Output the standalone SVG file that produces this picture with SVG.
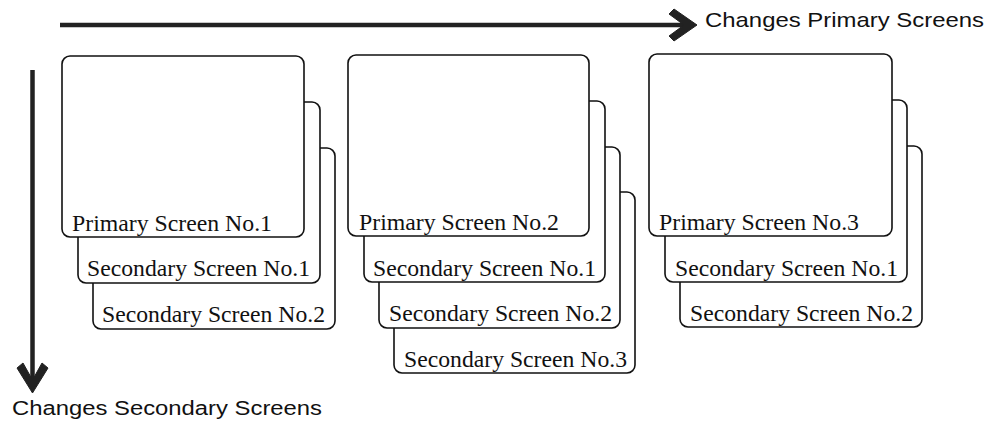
<svg xmlns="http://www.w3.org/2000/svg" width="991" height="421" viewBox="0 0 991 421">
<style>
.scr{fill:#fff;stroke:#111;stroke-width:1.6}
.lbl{font-family:"Liberation Serif","Times New Roman",serif;font-size:23.5px;fill:#111}
.cap{font-family:"Liberation Sans",Arial,sans-serif;fill:#111}
.ax{stroke:#222;stroke-width:4.5;fill:none}
.hd{fill:#222;stroke:#222;stroke-width:1;stroke-linejoin:round}
</style>
<rect width="991" height="421" fill="#fff"/>
<g id="connectors">
<line class="ax" x1="60" y1="25" x2="684" y2="25"/>
<polygon class="hd" points="674,9 697,25 674,41 669,36 684,25 669,14"/>
<line class="ax" x1="32.5" y1="70" x2="32.5" y2="380"/>
<polygon class="hd" points="17,368 23,363 32.5,380 42,363 48,368 32.5,393"/>
</g>
<text class="cap" x="705" y="27" font-size="21" textLength="279" lengthAdjust="spacingAndGlyphs">Changes Primary Screens</text>
<text class="cap" x="12" y="415" font-size="19.5" textLength="310" lengthAdjust="spacingAndGlyphs">Changes Secondary Screens</text>

<g id="stack1">
<g id="s1-sec2"><rect class="scr" x="93" y="148" width="242" height="181" rx="8"/><text class="lbl" x="102" y="322" textLength="223" lengthAdjust="spacingAndGlyphs">Secondary Screen No.2</text></g>
<g id="s1-sec1"><rect class="scr" x="78" y="102" width="242" height="181" rx="8"/><text class="lbl" x="87" y="276" textLength="223" lengthAdjust="spacingAndGlyphs">Secondary Screen No.1</text></g>
<g id="s1-pri"><rect class="scr" x="62" y="56" width="242" height="181" rx="8"/><text class="lbl" x="72" y="231" textLength="200" lengthAdjust="spacingAndGlyphs">Primary Screen No.1</text></g>
</g>

<g id="stack2">
<g id="s2-sec3"><rect class="scr" x="394" y="192" width="241" height="181" rx="8"/><text class="lbl" x="404" y="367" textLength="223" lengthAdjust="spacingAndGlyphs">Secondary Screen No.3</text></g>
<g id="s2-sec2"><rect class="scr" x="379" y="147" width="241" height="181" rx="8"/><text class="lbl" x="389" y="321" textLength="223" lengthAdjust="spacingAndGlyphs">Secondary Screen No.2</text></g>
<g id="s2-sec1"><rect class="scr" x="364" y="101" width="241" height="181" rx="8"/><text class="lbl" x="373" y="276" textLength="223" lengthAdjust="spacingAndGlyphs">Secondary Screen No.1</text></g>
<g id="s2-pri"><rect class="scr" x="348" y="55" width="241" height="181" rx="8"/><text class="lbl" x="359" y="230" textLength="200" lengthAdjust="spacingAndGlyphs">Primary Screen No.2</text></g>
</g>

<g id="stack3">
<g id="s3-sec2"><rect class="scr" x="680" y="146" width="242" height="181" rx="8"/><text class="lbl" x="690" y="321" textLength="223" lengthAdjust="spacingAndGlyphs">Secondary Screen No.2</text></g>
<g id="s3-sec1"><rect class="scr" x="665" y="100" width="242" height="182" rx="8"/><text class="lbl" x="675" y="276" textLength="223" lengthAdjust="spacingAndGlyphs">Secondary Screen No.1</text></g>
<g id="s3-pri"><rect class="scr" x="649" y="54" width="243" height="182" rx="8"/><text class="lbl" x="659" y="230" textLength="200" lengthAdjust="spacingAndGlyphs">Primary Screen No.3</text></g>
</g>
</svg>
